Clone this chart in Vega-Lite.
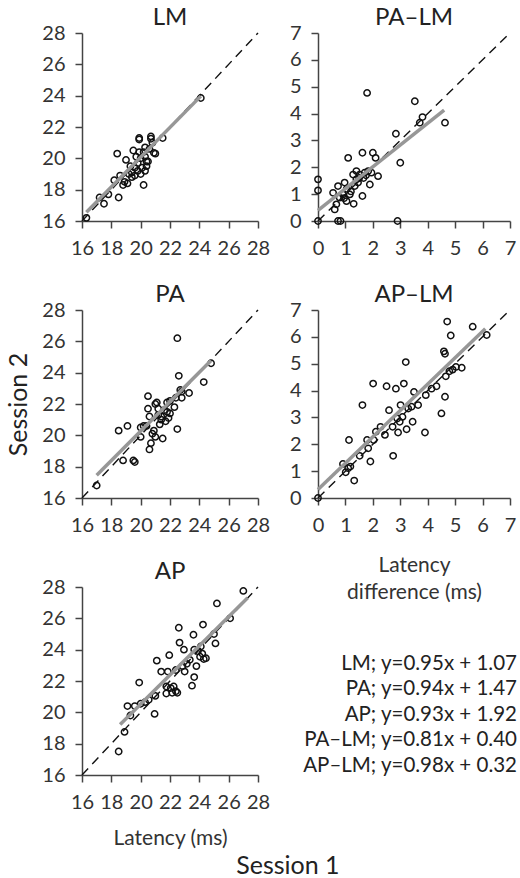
{
  "$schema": "https://vega.github.io/schema/vega-lite/v6.json",
  "padding": {"left": 6, "top": 6, "right": 0, "bottom": 0},
  "background": "white",
  "config": {
    "font": "Lato",
    "view": {"stroke": null},
    "axis": {"grid": false, "domainColor": "#444", "domainWidth": 1.5, "tickColor": "#444", "tickWidth": 1.5, "tickSize": 7, "labelFont": "Lato", "labelFontSize": 20, "labelColor": "#333", "labelPadding": 10, "labelOverlap": false, "labelBound": false, "labelFlush": false, "titleFont": "Lato", "titleFontSize": 21, "titleFontWeight": "normal", "titleColor": "#333", "titlePadding": 15, "titleLineHeight": 27},
    "title": {"font": "Lato", "fontSize": 24, "fontWeight": "normal", "color": "#222", "offset": -7}
  },
  "datasets": {
    "pts": [
      {"p":"LM","x":16.3,"y":16.2},{"p":"LM","x":17.2,"y":17.5},{"p":"LM","x":17.5,"y":17.1},{"p":"LM","x":17.8,"y":17.7},{"p":"LM","x":18.5,"y":17.5},{"p":"LM","x":18.2,"y":18.6},{"p":"LM","x":18.4,"y":20.3},{"p":"LM","x":18.6,"y":18.9},{"p":"LM","x":18.8,"y":18.3},{"p":"LM","x":18.9,"y":18.5},{"p":"LM","x":19.0,"y":19.9},{"p":"LM","x":19.1,"y":18.4},{"p":"LM","x":19.2,"y":19.0},{"p":"LM","x":19.3,"y":19.5},{"p":"LM","x":19.4,"y":18.8},{"p":"LM","x":19.4,"y":19.1},{"p":"LM","x":19.5,"y":20.5},{"p":"LM","x":19.6,"y":19.4},{"p":"LM","x":19.6,"y":18.9},{"p":"LM","x":19.7,"y":20.1},{"p":"LM","x":19.8,"y":19.7},{"p":"LM","x":19.8,"y":19.2},{"p":"LM","x":19.9,"y":21.3},{"p":"LM","x":19.9,"y":21.2},{"p":"LM","x":19.9,"y":20.4},{"p":"LM","x":20.0,"y":19.0},{"p":"LM","x":20.0,"y":20.0},{"p":"LM","x":20.1,"y":19.4},{"p":"LM","x":20.2,"y":18.3},{"p":"LM","x":20.2,"y":20.4},{"p":"LM","x":20.3,"y":20.1},{"p":"LM","x":20.3,"y":20.7},{"p":"LM","x":20.3,"y":19.2},{"p":"LM","x":20.4,"y":19.5},{"p":"LM","x":20.4,"y":19.8},{"p":"LM","x":20.5,"y":19.8},{"p":"LM","x":20.6,"y":20.6},{"p":"LM","x":20.7,"y":21.4},{"p":"LM","x":20.7,"y":21.25},{"p":"LM","x":20.8,"y":21.0},{"p":"LM","x":20.9,"y":20.35},{"p":"LM","x":21.0,"y":20.3},{"p":"LM","x":21.5,"y":21.3},{"p":"LM","x":24.1,"y":23.85},
      {"p":"PA","x":17.0,"y":16.8},{"p":"PA","x":18.5,"y":20.3},{"p":"PA","x":18.8,"y":18.4},{"p":"PA","x":19.1,"y":20.6},{"p":"PA","x":19.5,"y":18.4},{"p":"PA","x":19.6,"y":18.3},{"p":"PA","x":20.0,"y":20.5},{"p":"PA","x":20.0,"y":19.9},{"p":"PA","x":20.2,"y":20.6},{"p":"PA","x":20.5,"y":22.5},{"p":"PA","x":20.5,"y":21.7},{"p":"PA","x":20.6,"y":19.1},{"p":"PA","x":20.6,"y":21.2},{"p":"PA","x":20.7,"y":19.5},{"p":"PA","x":20.8,"y":20.1},{"p":"PA","x":20.9,"y":20.3},{"p":"PA","x":21.0,"y":19.9},{"p":"PA","x":21.1,"y":22.1},{"p":"PA","x":21.2,"y":21.7},{"p":"PA","x":21.2,"y":21.3},{"p":"PA","x":21.3,"y":20.7},{"p":"PA","x":21.4,"y":21.2},{"p":"PA","x":21.5,"y":19.8},{"p":"PA","x":21.6,"y":21.6},{"p":"PA","x":21.7,"y":20.9},{"p":"PA","x":21.8,"y":22.1},{"p":"PA","x":21.8,"y":21.5},{"p":"PA","x":21.9,"y":21.1},{"p":"PA","x":22.0,"y":21.4},{"p":"PA","x":22.3,"y":21.8},{"p":"PA","x":22.4,"y":22.4},{"p":"PA","x":22.5,"y":20.4},{"p":"PA","x":22.5,"y":26.2},{"p":"PA","x":22.6,"y":23.8},{"p":"PA","x":22.7,"y":22.9},{"p":"PA","x":22.8,"y":22.4},{"p":"PA","x":22.8,"y":22.8},{"p":"PA","x":23.3,"y":22.7},{"p":"PA","x":24.3,"y":23.4},{"p":"PA","x":24.8,"y":24.6},{"p":"PA","x":21.0,"y":22.0},{"p":"PA","x":22.0,"y":22.2},{"p":"PA","x":20.4,"y":20.6},{"p":"PA","x":21.4,"y":21.0},
      {"p":"AP","x":18.5,"y":17.5},{"p":"AP","x":18.9,"y":18.75},{"p":"AP","x":19.1,"y":20.4},{"p":"AP","x":19.3,"y":19.8},{"p":"AP","x":19.6,"y":20.4},{"p":"AP","x":19.9,"y":21.9},{"p":"AP","x":20.0,"y":20.55},{"p":"AP","x":20.3,"y":20.65},{"p":"AP","x":20.55,"y":20.8},{"p":"AP","x":20.95,"y":19.9},{"p":"AP","x":21.0,"y":21.05},{"p":"AP","x":21.1,"y":23.3},{"p":"AP","x":21.4,"y":22.6},{"p":"AP","x":21.75,"y":21.2},{"p":"AP","x":21.75,"y":21.65},{"p":"AP","x":21.85,"y":22.6},{"p":"AP","x":21.95,"y":23.65},{"p":"AP","x":22.05,"y":21.55},{"p":"AP","x":22.15,"y":21.25},{"p":"AP","x":22.25,"y":21.65},{"p":"AP","x":22.4,"y":21.35},{"p":"AP","x":22.5,"y":21.25},{"p":"AP","x":22.4,"y":22.7},{"p":"AP","x":22.6,"y":25.4},{"p":"AP","x":22.65,"y":24.45},{"p":"AP","x":22.85,"y":22.95},{"p":"AP","x":22.95,"y":24.0},{"p":"AP","x":23.0,"y":22.6},{"p":"AP","x":23.15,"y":23.1},{"p":"AP","x":23.35,"y":23.35},{"p":"AP","x":23.5,"y":21.7},{"p":"AP","x":23.6,"y":24.95},{"p":"AP","x":23.65,"y":22.25},{"p":"AP","x":23.65,"y":24.0},{"p":"AP","x":23.8,"y":22.95},{"p":"AP","x":23.9,"y":23.9},{"p":"AP","x":24.05,"y":23.55},{"p":"AP","x":24.1,"y":24.2},{"p":"AP","x":24.2,"y":23.75},{"p":"AP","x":24.25,"y":25.6},{"p":"AP","x":24.3,"y":23.4},{"p":"AP","x":24.45,"y":23.45},{"p":"AP","x":25.0,"y":25.0},{"p":"AP","x":25.1,"y":24.4},{"p":"AP","x":25.2,"y":26.95},{"p":"AP","x":26.1,"y":26.0},{"p":"AP","x":27.0,"y":27.75},
      {"p":"PA–LM","x":0,"y":1.55},{"p":"PA–LM","x":0,"y":1.14},{"p":"PA–LM","x":0,"y":0},{"p":"PA–LM","x":0.73,"y":0},{"p":"PA–LM","x":0.82,"y":0},{"p":"PA–LM","x":2.9,"y":0},{"p":"PA–LM","x":0.55,"y":1.05},{"p":"PA–LM","x":0.61,"y":0.43},{"p":"PA–LM","x":0.67,"y":0.62},{"p":"PA–LM","x":0.73,"y":1.3},{"p":"PA–LM","x":0.79,"y":0.87},{"p":"PA–LM","x":0.91,"y":0.99},{"p":"PA–LM","x":0.97,"y":1.43},{"p":"PA–LM","x":1.04,"y":0.74},{"p":"PA–LM","x":1.1,"y":2.35},{"p":"PA–LM","x":1.16,"y":0.99},{"p":"PA–LM","x":1.28,"y":1.73},{"p":"PA–LM","x":1.3,"y":0.64},{"p":"PA–LM","x":1.34,"y":1.3},{"p":"PA–LM","x":1.4,"y":1.86},{"p":"PA–LM","x":1.46,"y":1.43},{"p":"PA–LM","x":1.52,"y":1.73},{"p":"PA–LM","x":1.62,"y":0.93},{"p":"PA–LM","x":1.62,"y":2.54},{"p":"PA–LM","x":1.7,"y":1.8},{"p":"PA–LM","x":1.79,"y":4.77},{"p":"PA–LM","x":1.83,"y":1.86},{"p":"PA–LM","x":1.89,"y":1.36},{"p":"PA–LM","x":1.95,"y":1.8},{"p":"PA–LM","x":2.0,"y":2.54},{"p":"PA–LM","x":2.1,"y":2.35},{"p":"PA–LM","x":2.19,"y":1.67},{"p":"PA–LM","x":2.84,"y":3.25},{"p":"PA–LM","x":3.0,"y":2.17},{"p":"PA–LM","x":3.53,"y":4.46},{"p":"PA–LM","x":3.71,"y":3.66},{"p":"PA–LM","x":3.81,"y":3.87},{"p":"PA–LM","x":4.63,"y":3.66},{"p":"PA–LM","x":0.95,"y":0.85},{"p":"PA–LM","x":1.2,"y":1.1},{"p":"PA–LM","x":1.66,"y":1.6},{"p":"PA–LM","x":1.4,"y":1.55},{"p":"PA–LM","x":1.75,"y":1.7},{"p":"PA–LM","x":1.05,"y":1.2},{"p":"PA–LM","x":1.5,"y":1.6},
      {"p":"AP–LM","x":0,"y":0},{"p":"AP–LM","x":0.91,"y":1.27},{"p":"AP–LM","x":1.01,"y":0.96},{"p":"AP–LM","x":1.1,"y":1.11},{"p":"AP–LM","x":1.18,"y":1.17},{"p":"AP–LM","x":1.13,"y":2.16},{"p":"AP–LM","x":1.32,"y":0.65},{"p":"AP–LM","x":1.52,"y":1.57},{"p":"AP–LM","x":1.62,"y":3.46},{"p":"AP–LM","x":1.79,"y":2.16},{"p":"AP–LM","x":1.83,"y":1.85},{"p":"AP–LM","x":1.91,"y":1.36},{"p":"AP–LM","x":2.01,"y":4.26},{"p":"AP–LM","x":2.03,"y":2.16},{"p":"AP–LM","x":2.11,"y":2.47},{"p":"AP–LM","x":2.28,"y":2.65},{"p":"AP–LM","x":2.44,"y":2.35},{"p":"AP–LM","x":2.5,"y":4.16},{"p":"AP–LM","x":2.59,"y":3.27},{"p":"AP–LM","x":2.72,"y":2.65},{"p":"AP–LM","x":2.74,"y":1.57},{"p":"AP–LM","x":2.84,"y":4.07},{"p":"AP–LM","x":2.89,"y":2.96},{"p":"AP–LM","x":2.92,"y":2.44},{"p":"AP–LM","x":2.98,"y":2.84},{"p":"AP–LM","x":3.01,"y":3.46},{"p":"AP–LM","x":3.08,"y":3.02},{"p":"AP–LM","x":3.13,"y":4.26},{"p":"AP–LM","x":3.2,"y":5.06},{"p":"AP–LM","x":3.23,"y":2.56},{"p":"AP–LM","x":3.29,"y":3.33},{"p":"AP–LM","x":3.41,"y":3.4},{"p":"AP–LM","x":3.45,"y":2.84},{"p":"AP–LM","x":3.5,"y":3.95},{"p":"AP–LM","x":3.65,"y":3.46},{"p":"AP–LM","x":3.9,"y":2.44},{"p":"AP–LM","x":3.93,"y":3.83},{"p":"AP–LM","x":4.14,"y":4.07},{"p":"AP–LM","x":4.32,"y":4.16},{"p":"AP–LM","x":4.5,"y":3.15},{"p":"AP–LM","x":4.63,"y":3.77},{"p":"AP–LM","x":4.59,"y":5.46},{"p":"AP–LM","x":4.63,"y":5.37},{"p":"AP–LM","x":4.66,"y":4.53},{"p":"AP–LM","x":4.71,"y":6.57},{"p":"AP–LM","x":4.79,"y":4.72},{"p":"AP–LM","x":4.84,"y":6.05},{"p":"AP–LM","x":4.91,"y":4.78},{"p":"AP–LM","x":5.03,"y":4.88},{"p":"AP–LM","x":5.24,"y":4.85},{"p":"AP–LM","x":5.64,"y":6.38},{"p":"AP–LM","x":6.15,"y":6.07}
    ],
    "lines": [
      {"p":"LM","k":"diag","x":16,"y":16,"x2":28,"y2":28},{"p":"LM","k":"fit","x":16.3,"y":16.56,"x2":24.1,"y2":23.97},
      {"p":"PA","k":"diag","x":16,"y":16,"x2":28,"y2":28},{"p":"PA","k":"fit","x":17.0,"y":17.45,"x2":24.8,"y2":24.78},
      {"p":"AP","k":"diag","x":16,"y":16,"x2":28,"y2":28},{"p":"AP","k":"fit","x":18.6,"y":19.22,"x2":27.3,"y2":27.31},
      {"p":"PA–LM","k":"diag","x":0,"y":0,"x2":7,"y2":7},{"p":"PA–LM","k":"fit","x":0,"y":0.40,"x2":4.6,"y2":4.13},
      {"p":"AP–LM","k":"diag","x":0,"y":0,"x2":7,"y2":7},{"p":"AP–LM","k":"fit","x":0,"y":0.32,"x2":6.1,"y2":6.30}
    ],
    "eq": [
      {"label":"LM; y=0.95x + 1.07"},
      {"label":"PA; y=0.94x + 1.47"},
      {"label":"AP; y=0.93x + 1.92"},
      {"label":"PA–LM; y=0.81x + 0.40"},
      {"label":"AP–LM; y=0.98x + 0.32"}
    ]
  },
  "title": {"text": "Session 1", "orient": "bottom", "anchor": "middle", "fontSize": 25, "color": "#222", "offset": 6, "dx": 26},
  "bounds": "flush",
  "columns": 2,
  "spacing": {"row": 89, "column": 60},
  "concat": [
    {
      "width": 176, "height": 188, "title": "LM",
      "encoding": {
        "x": {"field": "x", "type": "quantitative", "scale": {"domain": [16, 28], "nice": false, "zero": false}, "axis": {"values": [16,18,20,22,24,26,28], "title": null}},
        "y": {"field": "y", "type": "quantitative", "scale": {"domain": [16, 28], "nice": false, "zero": false}, "axis": {"values": [16,18,20,22,24,26,28], "title": null}}
      },
      "layer": [
        {"data": {"name": "pts"}, "transform": [{"filter": "datum.p === 'LM'"}],
         "mark": {"type": "point", "shape": "circle", "filled": false, "stroke": "#111", "strokeWidth": 1.5, "size": 40, "opacity": 1}},
        {"data": {"name": "lines"}, "transform": [{"filter": "datum.p === 'LM' && datum.k === 'diag'"}],
         "mark": {"type": "rule", "strokeDash": [9, 6], "color": "#111", "strokeWidth": 1.4},
         "encoding": {"x2": {"field": "x2"}, "y2": {"field": "y2"}}},
        {"data": {"name": "lines"}, "transform": [{"filter": "datum.p === 'LM' && datum.k === 'fit'"}],
         "mark": {"type": "rule", "color": "#979797", "strokeWidth": 3.5},
         "encoding": {"x2": {"field": "x2"}, "y2": {"field": "y2"}}}
      ]
    },
    {
      "width": 192, "height": 188, "title": "PA–LM",
      "encoding": {
        "x": {"field": "x", "type": "quantitative", "scale": {"domain": [0, 7], "nice": false, "zero": false}, "axis": {"values": [0,1,2,3,4,5,6,7], "title": null}},
        "y": {"field": "y", "type": "quantitative", "scale": {"domain": [0, 7], "nice": false, "zero": false}, "axis": {"values": [0,1,2,3,4,5,6,7], "title": null}}
      },
      "layer": [
        {"data": {"name": "pts"}, "transform": [{"filter": "datum.p === 'PA–LM'"}],
         "mark": {"type": "point", "shape": "circle", "filled": false, "stroke": "#111", "strokeWidth": 1.5, "size": 40, "opacity": 1}},
        {"data": {"name": "lines"}, "transform": [{"filter": "datum.p === 'PA–LM' && datum.k === 'diag'"}],
         "mark": {"type": "rule", "strokeDash": [9, 6], "color": "#111", "strokeWidth": 1.4},
         "encoding": {"x2": {"field": "x2"}, "y2": {"field": "y2"}}},
        {"data": {"name": "lines"}, "transform": [{"filter": "datum.p === 'PA–LM' && datum.k === 'fit'"}],
         "mark": {"type": "rule", "color": "#979797", "strokeWidth": 3.5},
         "encoding": {"x2": {"field": "x2"}, "y2": {"field": "y2"}}}
      ]
    },
    {
      "width": 176, "height": 188, "title": "PA",
      "encoding": {
        "x": {"field": "x", "type": "quantitative", "scale": {"domain": [16, 28], "nice": false, "zero": false}, "axis": {"values": [16,18,20,22,24,26,28], "title": null}},
        "y": {"field": "y", "type": "quantitative", "scale": {"domain": [16, 28], "nice": false, "zero": false}, "axis": {"values": [16,18,20,22,24,26,28], "title": "Session 2", "titleFontSize": 25, "titleColor": "#222", "titlePadding": 10}}
      },
      "layer": [
        {"data": {"name": "pts"}, "transform": [{"filter": "datum.p === 'PA'"}],
         "mark": {"type": "point", "shape": "circle", "filled": false, "stroke": "#111", "strokeWidth": 1.5, "size": 40, "opacity": 1}},
        {"data": {"name": "lines"}, "transform": [{"filter": "datum.p === 'PA' && datum.k === 'diag'"}],
         "mark": {"type": "rule", "strokeDash": [9, 6], "color": "#111", "strokeWidth": 1.4},
         "encoding": {"x2": {"field": "x2"}, "y2": {"field": "y2"}}},
        {"data": {"name": "lines"}, "transform": [{"filter": "datum.p === 'PA' && datum.k === 'fit'"}],
         "mark": {"type": "rule", "color": "#979797", "strokeWidth": 3.5},
         "encoding": {"x2": {"field": "x2"}, "y2": {"field": "y2"}}}
      ]
    },
    {
      "width": 192, "height": 188, "title": "AP–LM",
      "encoding": {
        "x": {"field": "x", "type": "quantitative", "scale": {"domain": [0, 7], "nice": false, "zero": false}, "axis": {"values": [0,1,2,3,4,5,6,7], "title": ["Latency", "difference (ms)"], "titlePadding": 19}},
        "y": {"field": "y", "type": "quantitative", "scale": {"domain": [0, 7], "nice": false, "zero": false}, "axis": {"values": [0,1,2,3,4,5,6,7], "title": null}}
      },
      "layer": [
        {"data": {"name": "pts"}, "transform": [{"filter": "datum.p === 'AP–LM'"}],
         "mark": {"type": "point", "shape": "circle", "filled": false, "stroke": "#111", "strokeWidth": 1.5, "size": 40, "opacity": 1}},
        {"data": {"name": "lines"}, "transform": [{"filter": "datum.p === 'AP–LM' && datum.k === 'diag'"}],
         "mark": {"type": "rule", "strokeDash": [9, 6], "color": "#111", "strokeWidth": 1.4},
         "encoding": {"x2": {"field": "x2"}, "y2": {"field": "y2"}}},
        {"data": {"name": "lines"}, "transform": [{"filter": "datum.p === 'AP–LM' && datum.k === 'fit'"}],
         "mark": {"type": "rule", "color": "#979797", "strokeWidth": 3.5},
         "encoding": {"x2": {"field": "x2"}, "y2": {"field": "y2"}}}
      ]
    },
    {
      "width": 176, "height": 188, "title": "AP",
      "encoding": {
        "x": {"field": "x", "type": "quantitative", "scale": {"domain": [16, 28], "nice": false, "zero": false}, "axis": {"values": [16,18,20,22,24,26,28], "title": "Latency (ms)"}},
        "y": {"field": "y", "type": "quantitative", "scale": {"domain": [16, 28], "nice": false, "zero": false}, "axis": {"values": [16,18,20,22,24,26,28], "title": null}}
      },
      "layer": [
        {"data": {"name": "pts"}, "transform": [{"filter": "datum.p === 'AP'"}],
         "mark": {"type": "point", "shape": "circle", "filled": false, "stroke": "#111", "strokeWidth": 1.5, "size": 40, "opacity": 1}},
        {"data": {"name": "lines"}, "transform": [{"filter": "datum.p === 'AP' && datum.k === 'diag'"}],
         "mark": {"type": "rule", "strokeDash": [9, 6], "color": "#111", "strokeWidth": 1.4},
         "encoding": {"x2": {"field": "x2"}, "y2": {"field": "y2"}}},
        {"data": {"name": "lines"}, "transform": [{"filter": "datum.p === 'AP' && datum.k === 'fit'"}],
         "mark": {"type": "rule", "color": "#979797", "strokeWidth": 3.5},
         "encoding": {"x2": {"field": "x2"}, "y2": {"field": "y2"}}}
      ]
    },
    {
      "width": 199, "height": 153,
      "data": {"name": "eq"},
      "mark": {"type": "text", "align": "right", "baseline": "middle", "fontSize": 20.5, "font": "Lato", "color": "#222", "dy": 51},
      "encoding": {
        "x": {"datum": 1, "type": "quantitative", "scale": {"domain": [0, 1]}, "axis": null},
        "y": {"field": "label", "type": "nominal", "sort": null, "axis": null, "scale": {"type": "point", "padding": 1}},
        "text": {"field": "label"}
      }
    }
  ]
}
